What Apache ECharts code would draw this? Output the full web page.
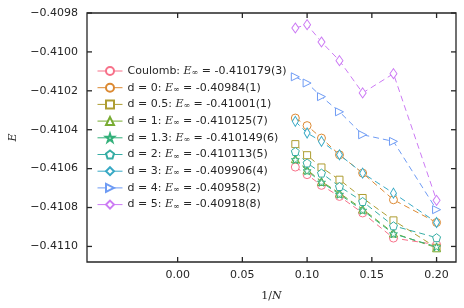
<!DOCTYPE html>
<html><head><meta charset="utf-8">
<script src="https://cdn.jsdelivr.net/npm/echarts@6/dist/echarts.min.js"></script>
<style>html,body{margin:0;padding:0;background:#fff}#c{width:464px;height:308px}</style>
</head><body><div id="c"></div>
<script>
const xs = [0.0909, 0.1, 0.1111, 0.125, 0.1429, 0.1667, 0.2];
const names = ['Coulomb', 'd = 0', 'd = 0.5', 'd = 1', 'd = 1.3', 'd = 2', 'd = 3', 'd = 4', 'd = 5'];
const einf = ['-0.410179(3)', '-0.40984(1)', '-0.41001(1)', '-0.410125(7)', '-0.410149(6)', '-0.410113(5)', '-0.409906(4)', '-0.40958(2)', '-0.40918(8)'];
const coulomb = [-0.410592, -0.410631, -0.410686, -0.410743, -0.410828, -0.410957, -0.410991];
const d0  = [-0.410340, -0.410379, -0.410443, -0.410529, -0.410623, -0.410760, -0.410877];
const d05 = [-0.410474, -0.410531, -0.410594, -0.410657, -0.410751, -0.410866, -0.411007];
const d1  = [-0.410549, -0.410606, -0.410666, -0.410726, -0.410808, -0.410931, -0.411007];
const d13 = [-0.410554, -0.410611, -0.410670, -0.410732, -0.410814, -0.410935, -0.411002];
const d2  = [-0.410512, -0.410571, -0.410623, -0.410692, -0.410769, -0.410894, -0.410955];
const d3  = [-0.410357, -0.410417, -0.410460, -0.410529, -0.410623, -0.410726, -0.410877];
const d4  = [-0.410128, -0.410160, -0.410230, -0.410308, -0.410426, -0.410460, -0.410811];
const d5  = [-0.409877, -0.409860, -0.409949, -0.410045, -0.410211, -0.410112, -0.410763];
const xTicks = [0.00, 0.05, 0.10, 0.15, 0.20];
const yTicks = [-0.4110, -0.4108, -0.4106, -0.4104, -0.4102, -0.4100, -0.4098];

const values = [coulomb, d0, d05, d1, d13, d2, d3, d4, d5];
const colors = ['#f77189', '#dc8932', '#ae9d31', '#77ab31', '#33b07a', '#36ada4', '#38a9c5', '#6e9bf4', '#cc7af4'];
const star = 'path://M0,-1L0.2245,-0.309L0.951,-0.309L0.363,0.118L0.588,0.809L0,0.382L-0.588,0.809L-0.363,0.118L-0.951,-0.309L-0.2245,-0.309Z';
const pent = 'path://M0,-1L0.951,-0.309L0.588,0.809L-0.588,0.809L-0.951,-0.309Z';
const thinD = 'path://M0,-1L0.6,0L0,1L-0.6,0Z';
const triR = 'path://M1,0L-0.5,0.866L-0.5,-0.866Z';
const symbols = ['circle', 'circle', 'rect', 'triangle', star, pent, thinD, triR, thinD];
const sizes = [8, 8, 7, 8, 8, 8, [6, 10], [8, 8], [7, 10]];
const ink = '#262626';
const mono = 'DejaVu Sans';
const XMIN = -0.07, XMAX = 0.215, YMIN = -0.41108, YMAX = -0.4098;
const TK = 5, TW = 1.3;

const series = values.map((v, i) => ({
  name: names[i],
  type: 'line',
  data: xs.map((x, j) => [x, v[j]]),
  symbol: symbols[i],
  symbolSize: sizes[i],
  showAllSymbol: true,
  lineStyle: { color: colors[i], width: 1, type: [6, 4] },
  itemStyle: { color: '#fff', borderColor: colors[i], borderWidth: 1 },
  emphasis: { disabled: true },
  animation: false
}));

// inward tick marks on all four sides, placed through the axes' scales
function tickRect(x, y, w, h) {
  return { type: 'rect', shape: { x: x, y: y, width: w, height: h }, style: { fill: ink } };
}
series.push({
  type: 'custom', name: 'xticks', silent: true, clip: false, z: 5,
  encode: { x: 0, y: 1 },
  data: xTicks.map(v => [v, YMIN]),
  renderItem: function (params, api) {
    const b = api.coord([api.value(0), YMIN]);
    const t = api.coord([api.value(0), YMAX]);
    return { type: 'group', children: [tickRect(b[0] - TW / 2, b[1] - TK, TW, TK), tickRect(t[0] - TW / 2, t[1], TW, TK)] };
  }
});
series.push({
  type: 'custom', name: 'yticks', silent: true, clip: false, z: 5,
  encode: { x: 0, y: 1 },
  data: yTicks.map(v => [XMIN, v]),
  renderItem: function (params, api) {
    const l = api.coord([XMIN, api.value(1)]);
    const r = api.coord([XMAX, api.value(1)]);
    return { type: 'group', children: [tickRect(l[0], l[1] - TW / 2, TK, TW), tickRect(r[0] - TK, r[1] - TW / 2, TK, TW)] };
  }
});

const option = {
  animation: false,
  grid: { left: 82, right: 8, top: 13, bottom: 46, show: true, borderColor: ink, borderWidth: 1.3, backgroundColor: 'transparent' },
  legend: {
    orient: 'vertical', left: 92, top: 60,
    itemWidth: 25, itemHeight: 10, itemGap: 4.7,
    lineStyle: { type: 'solid', width: 1 },
    textStyle: {
      fontFamily: mono, fontSize: 11, color: ink, lineHeight: 12,
      rich: {
        i: { fontFamily: 'DejaVu Serif', fontStyle: 'italic', fontSize: 11, color: ink },
        s: { fontFamily: 'DejaVu Serif', fontSize: 8, color: ink, padding: [4, 0, 0, 0] },
        e: { fontFamily: 'DejaVu Serif', fontSize: 11, color: ink },
        n: { fontFamily: mono, fontSize: 11, color: ink }
      }
    },
    formatter: function (name) {
      const k = names.indexOf(name);
      return '{n|' + name + ': }{i|E}{s|∞}{e| = }{n|' + einf[k] + '}';
    },
    data: names
  },
  xAxis: {
    type: 'value', min: XMIN, max: XMAX, position: 'bottom',
    axisLine: { show: false, onZero: false }, splitLine: { show: false },
    axisTick: { show: false },
    axisLabel: { customValues: xTicks, margin: 8, color: ink, fontFamily: mono, fontSize: 11, formatter: v => v.toFixed(2) },
    name: '{a|1/}{b|N}', nameLocation: 'middle', nameGap: 29,
    nameTextStyle: { rich: { a: { fontFamily: 'DejaVu Serif', fontSize: 11, color: ink }, b: { fontFamily: 'DejaVu Serif', fontStyle: 'italic', fontSize: 11, color: ink } } }
  },
  yAxis: {
    type: 'value', min: YMIN, max: YMAX, position: 'left',
    axisLine: { show: false, onZero: false }, splitLine: { show: false },
    axisTick: { show: false },
    axisLabel: { customValues: yTicks, margin: 9, color: ink, fontFamily: mono, fontSize: 11, formatter: v => v.toFixed(4).replace('-', '\u2212') },
    name: 'E', nameLocation: 'middle', nameGap: 68,
    nameTextStyle: { fontFamily: 'DejaVu Serif', fontStyle: 'italic', fontSize: 11, color: ink }
  },
  series: series
};
const chart = echarts.init(document.getElementById('c'), null, { renderer: 'canvas' });
chart.setOption(option);
</script></body></html>
